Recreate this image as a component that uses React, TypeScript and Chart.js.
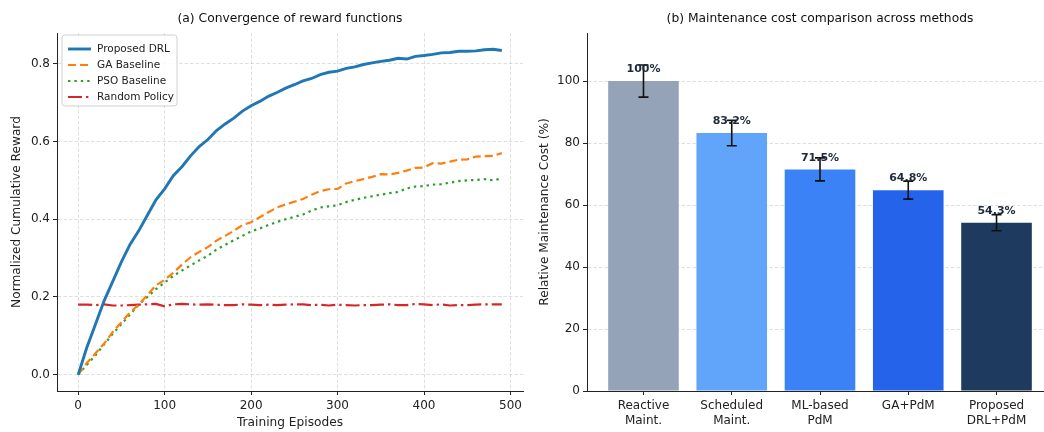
import React, { useEffect, useRef } from "react";
import { Chart, registerables } from "chart.js";

Chart.register(...registerables);

// ---------- Data: (a) reward convergence ----------
const episodes = [
  0, 10, 20, 30, 40, 50, 60, 70, 80, 90,
  100, 110, 120, 130, 140, 150, 160, 170, 180, 190,
  200, 210, 220, 230, 240, 250, 260, 270, 280, 290,
  300, 310, 320, 330, 340, 350, 360, 370, 380, 390,
  400, 410, 420, 430, 440, 450, 460, 470, 480, 490,
];
const drlReward = [
  0.0, 0.07, 0.13, 0.19, 0.24, 0.29, 0.335, 0.37, 0.41, 0.45,
  0.478, 0.512, 0.535, 0.563, 0.587, 0.605, 0.628, 0.645, 0.66, 0.678,
  0.692, 0.703, 0.716, 0.726, 0.737, 0.746, 0.756, 0.762, 0.772, 0.778,
  0.781, 0.788, 0.792, 0.798, 0.802, 0.806, 0.809, 0.814, 0.812, 0.819,
  0.821, 0.824, 0.828, 0.829, 0.832, 0.832, 0.833, 0.836, 0.837, 0.834,
];
const gaReward = [
  0.0, 0.03, 0.055, 0.08, 0.11, 0.135, 0.16, 0.18, 0.205, 0.23,
  0.244, 0.262, 0.283, 0.302, 0.316, 0.328, 0.345, 0.357, 0.37, 0.385,
  0.392, 0.405, 0.418, 0.43, 0.438, 0.445, 0.452, 0.463, 0.472, 0.477,
  0.478, 0.492, 0.498, 0.503, 0.509, 0.516, 0.515, 0.519, 0.525, 0.532,
  0.533, 0.544, 0.543, 0.548, 0.553, 0.554, 0.561, 0.562, 0.563, 0.57,
];
const psoReward = [
  0.0, 0.025, 0.05, 0.078, 0.105, 0.13, 0.155, 0.18, 0.2, 0.22,
  0.237, 0.254, 0.268, 0.281, 0.294, 0.306, 0.322, 0.334, 0.346, 0.357,
  0.369, 0.376, 0.385, 0.393, 0.4, 0.406, 0.412, 0.422, 0.43, 0.433,
  0.436, 0.444, 0.45, 0.455, 0.459, 0.463, 0.467, 0.47, 0.479, 0.484,
  0.485, 0.489, 0.49, 0.494, 0.498, 0.5, 0.501, 0.503, 0.5, 0.505,
];
const randomReward = [
  0.18, 0.18, 0.179, 0.181, 0.178, 0.178, 0.179, 0.18, 0.181, 0.182,
  0.176, 0.181, 0.182, 0.181, 0.18, 0.181, 0.18, 0.179, 0.179, 0.181,
  0.18, 0.179, 0.18, 0.179, 0.18, 0.181, 0.181, 0.179, 0.18, 0.178,
  0.18, 0.179, 0.178, 0.179, 0.179, 0.18, 0.181, 0.179, 0.179, 0.182,
  0.181, 0.179, 0.181, 0.178, 0.179, 0.179, 0.18, 0.181, 0.181, 0.181,
];

// ---------- Data: (b) maintenance cost ----------
const methodLabels = [
  ["Reactive", "Maint."],
  ["Scheduled", "Maint."],
  ["ML-based", "PdM"],
  ["GA+PdM"],
  ["Proposed", "DRL+PdM"],
];
const costValues = [100, 83.2, 71.5, 64.8, 54.3];
const costErrors = [5.2, 4.1, 3.7, 2.9, 2.6];
const costText = ["100%", "83.2%", "71.5%", "64.8%", "54.3%"];
const barColors = ["#94a3b8", "#60a5fa", "#3b82f6", "#2563eb", "#1e3a5f"];

const FONT = '"DejaVu Sans", "Liberation Sans", sans-serif';
const TEXT = "#222222";
const GRID = "rgba(170,170,170,0.42)";
const GRID_DASH = [3.5, 2];

const titlePlugin = (text: string) => ({
  id: "customTitle",
  afterDraw(chart: any) {
    const { ctx, chartArea } = chart;
    ctx.save();
    ctx.font = `12.3px ${FONT}`;
    ctx.fillStyle = "#111";
    ctx.textAlign = "center";
    ctx.textBaseline = "middle";
    ctx.fillText(text, (chartArea.left + chartArea.right) / 2, 19);
    ctx.restore();
  },
});

const legendPlugin = {
  id: "customLegend",
  afterDatasetsDraw(chart: any) {
    const { ctx, chartArea } = chart;
    const x0 = chartArea.left + 5;
    const y0 = chartArea.top + 2;
    const w = 115;
    const h = 71;
    ctx.save();
    ctx.beginPath();
    const r = 3;
    ctx.moveTo(x0 + r, y0);
    ctx.lineTo(x0 + w - r, y0);
    ctx.quadraticCurveTo(x0 + w, y0, x0 + w, y0 + r);
    ctx.lineTo(x0 + w, y0 + h - r);
    ctx.quadraticCurveTo(x0 + w, y0 + h, x0 + w - r, y0 + h);
    ctx.lineTo(x0 + r, y0 + h);
    ctx.quadraticCurveTo(x0, y0 + h, x0, y0 + h - r);
    ctx.lineTo(x0, y0 + r);
    ctx.quadraticCurveTo(x0, y0, x0 + r, y0);
    ctx.closePath();
    ctx.fillStyle = "rgba(255,255,255,0.85)";
    ctx.fill();
    ctx.strokeStyle = "#d0d0d0";
    ctx.lineWidth = 1;
    ctx.stroke();
    chart.data.datasets.forEach((ds: any, i: number) => {
      const y = y0 + 14 + i * 16;
      ctx.strokeStyle = ds.borderColor;
      ctx.lineWidth = ds.borderWidth;
      ctx.setLineDash(ds.borderDash || []);
      ctx.beginPath();
      ctx.moveTo(x0 + 6, y);
      ctx.lineTo(x0 + 29, y);
      ctx.stroke();
      ctx.setLineDash([]);
      ctx.fillStyle = TEXT;
      ctx.font = `10.5px ${FONT}`;
      ctx.textAlign = "left";
      ctx.textBaseline = "middle";
      ctx.fillText(ds.label, x0 + 35, y);
    });
    ctx.restore();
  },
};

const errorBarPlugin = {
  id: "errorBars",
  afterDraw(chart: any) {
    const { ctx } = chart;
    const xs = chart.scales.x;
    const ys = chart.scales.y;
    ctx.save();
    costValues.forEach((v, i) => {
      const x = xs.getPixelForValue(i);
      const yt = ys.getPixelForValue(v + costErrors[i]);
      const yb = ys.getPixelForValue(v - costErrors[i]);
      ctx.strokeStyle = "#111";
      ctx.lineWidth = 1.6;
      ctx.beginPath();
      ctx.moveTo(x, yt);
      ctx.lineTo(x, yb);
      ctx.moveTo(x - 5, yt);
      ctx.lineTo(x + 5, yt);
      ctx.moveTo(x - 5, yb);
      ctx.lineTo(x + 5, yb);
      ctx.stroke();
    });
    costValues.forEach((v, i) => {
      const x = xs.getPixelForValue(i);
      const y = ys.getPixelForValue(v + 2);
      ctx.font = `bold 11px ${FONT}`;
      ctx.fillStyle = "#1e293b";
      ctx.textAlign = "center";
      ctx.textBaseline = "bottom";
      ctx.fillText(costText[i], x, y);
    });
    ctx.restore();
  },
};

const fixWidth = (w: number) => (scale: any) => {
  scale.width = w;
  scale.paddingTop = 0;
  scale.paddingBottom = 0;
};
const fixHeight = (h: number) => (scale: any) => {
  scale.height = h;
  scale.paddingLeft = 0;
  scale.paddingRight = 0;
};

const gridOpts = {
  color: GRID,
  lineWidth: 0.9,
  drawTicks: true,
  tickLength: 4,
  tickColor: "#222",
  tickBorderDash: [],
  tickWidth: 1,
};
const borderOpts = { display: true, color: "#222", width: 1, dash: GRID_DASH };

function RewardChart() {
  const ref = useRef<HTMLCanvasElement>(null);
  useEffect(() => {
    const toPts = (arr: number[]) => episodes.map((e, i) => ({ x: e, y: arr[i] }));
    const chart = new Chart(ref.current!, {
      type: "line",
      data: {
        datasets: [
          { label: "Proposed DRL", data: toPts(drlReward), borderColor: "#1f77b4", borderWidth: 2.9, borderDash: [] },
          { label: "GA Baseline", data: toPts(gaReward), borderColor: "#ff7f0e", borderWidth: 2.2, borderDash: [8, 4] },
          { label: "PSO Baseline", data: toPts(psoReward), borderColor: "#2ca02c", borderWidth: 2.2, borderDash: [2.4, 4] },
          { label: "Random Policy", data: toPts(randomReward), borderColor: "#d62728", borderWidth: 2.2, borderDash: [14, 4, 2.4, 4] },
        ] as any,
      },
      options: {
        responsive: false,
        animation: false,
        parsing: false as any,
        elements: { point: { radius: 0 }, line: { tension: 0, borderCapStyle: "butt" } },
        layout: { padding: { top: 33, right: 7, left: 0, bottom: 0 } },
        plugins: { legend: { display: false }, tooltip: { enabled: false }, title: { display: false } },
        scales: {
          x: {
            type: "linear",
            min: -24.5,
            max: 514.5,
            ticks: { stepSize: 100, includeBounds: false, color: TEXT, font: { family: FONT, size: 12 }, padding: 4, maxRotation: 0 },
            grid: gridOpts as any,
            border: borderOpts as any,
            title: { display: true, text: "Training Episodes", color: TEXT, font: { family: FONT, size: 12.2 }, padding: { top: 0, bottom: 2 } },
            afterFit: fixHeight(41),
          },
          y: {
            type: "linear",
            min: -0.042,
            max: 0.879,
            ticks: { stepSize: 0.2, includeBounds: false, color: TEXT, font: { family: FONT, size: 12 }, padding: 3, callback: (v: any) => Number(v).toFixed(1) },
            grid: gridOpts as any,
            border: borderOpts as any,
            title: { display: true, text: "Normalized Cumulative Reward", color: TEXT, font: { family: FONT, size: 12.2 }, padding: { top: 10, bottom: 0 } },
            afterFit: fixWidth(57),
          },
        },
      },
      plugins: [titlePlugin("(a) Convergence of reward functions"), legendPlugin],
    } as any);
    return () => chart.destroy();
  }, []);
  return <canvas ref={ref} width={530} height={432} style={{ position: "absolute", left: 0, top: 0 }} />;
}

function CostChart() {
  const ref = useRef<HTMLCanvasElement>(null);
  useEffect(() => {
    const chart = new Chart(ref.current!, {
      type: "bar",
      data: {
        datasets: [
          {
            label: "Relative Maintenance Cost (%)",
            data: costValues.map((v, i) => ({ x: i, y: v })),
            backgroundColor: barColors,
            borderWidth: 0,
            categoryPercentage: 1,
            barPercentage: 0.8,
          },
        ],
      },
      options: {
        responsive: false,
        animation: false,
        layout: { padding: { top: 33, right: 7, left: 0, bottom: 0 } },
        plugins: { legend: { display: false }, tooltip: { enabled: false }, title: { display: false } },
        scales: {
          x: {
            type: "linear",
            offset: false,
            min: -0.64,
            max: 4.64,
            ticks: {
              stepSize: 1,
              includeBounds: false,
              autoSkip: false,
              maxRotation: 0,
              minRotation: 0,
              color: TEXT,
              font: { family: FONT, size: 12, lineHeight: 1.2 },
              padding: 4,
              callback: (v: any) => methodLabels[Math.round(Number(v))] ?? "",
            },
            grid: { display: true, drawOnChartArea: false, offset: false, drawTicks: true, tickLength: 4, tickColor: "#222", tickWidth: 1 } as any,
            border: { display: true, color: "#222", width: 1 },
            afterFit: fixHeight(41),
          },
          y: {
            type: "linear",
            min: 0,
            max: 115.5,
            z: 1,
            ticks: { stepSize: 20, includeBounds: false, color: TEXT, font: { family: FONT, size: 12 }, padding: 3 },
            grid: gridOpts as any,
            border: borderOpts as any,
            title: { display: true, text: "Relative Maintenance Cost (%)", color: TEXT, font: { family: FONT, size: 12.2 }, padding: { top: 8, bottom: 0 } },
            afterFit: fixWidth(57),
          },
        },
      },
      plugins: [titlePlugin("(b) Maintenance cost comparison across methods"), errorBarPlugin],
    } as any);
    return () => chart.destroy();
  }, []);
  return <canvas ref={ref} width={530} height={432} style={{ position: "absolute", left: 530, top: 0 }} />;
}

export default function App() {
  return (
    <div style={{ position: "fixed", left: 0, top: 0, width: 1044, height: 432, overflow: "hidden", background: "#fff" }}>
      <RewardChart />
      <CostChart />
    </div>
  );
}
